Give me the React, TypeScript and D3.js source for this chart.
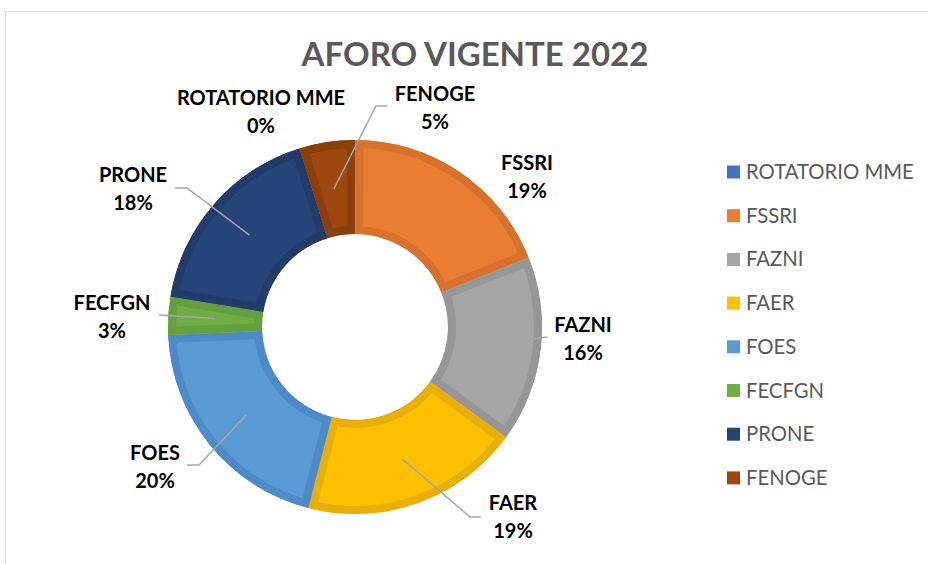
import { useMemo } from 'react';
import * as d3 from 'd3';

const categories = ['ROTATORIO MME', 'FSSRI', 'FAZNI', 'FAER', 'FOES', 'FECFGN', 'PRONE', 'FENOGE'];
const values = [0.05, 18.9, 16.1, 19.0, 20.3, 3.3, 17.6, 4.8];
const fills = ['#4472C4', '#E97E33', '#A5A5A5', '#FFC000', '#5B9BD5', '#70AD47', '#264478', '#9E480E'];
const bands = ['#3F69B5', '#D6722E', '#969696', '#E8AE0A', '#4E8BC6', '#64A03F', '#213C6A', '#8B3F0C'];

// label layout: text centre x, first baseline y, optional leader elbow + end
const labelLayout: { x: number; y: number; elbow?: [number, number]; end?: [number, number] }[] = [
  { x: 261, y: 105 },
  { x: 527, y: 170 },
  { x: 583, y: 332, end: [547, 337] },
  { x: 513, y: 510, elbow: [470, 517], end: [481, 517] },
  { x: 155, y: 460, elbow: [199, 465], end: [187, 465] },
  { x: 112, y: 310, end: [159, 315] },
  { x: 133, y: 182, elbow: [187, 188], end: [175, 188] },
  { x: 435, y: 101, elbow: [376, 106], end: [387, 106] },
];

const W = 928;
const H = 564;
const cx = 355;
const cy = 327;
const outerR = 187;
const innerR = 93;
const band = 8;

export default function App() {
  const arcs = useMemo(() => {
    const pie = d3.pie<number>().sort(null).value((d) => d);
    return pie(values);
  }, []);
  const total = d3.sum(values);
  const arc = d3.arc<d3.PieArcDatum<number>>().innerRadius(innerR).outerRadius(outerR);

  return (
    <svg
      width={W}
      height={H}
      style={{ position: 'absolute', left: 0, top: 0, background: '#fff' }}
      fontFamily="Lato, 'Open Sans', sans-serif"
    >
      <rect x={5.5} y={11.5} width={W} height={H} fill="#fff" stroke="#D9D9D9" strokeWidth={1} />
      <text x={475} y={66} textAnchor="middle" fontSize={33} fontWeight="bold" fill="#595959">
        AFORO VIGENTE 2022
      </text>
      <g transform={`translate(${cx},${cy})`}>
        <defs>
          {arcs.map((a, i) => (
            <clipPath id={`clip-${i}`} key={i}>
              <path d={arc(a) || ''} />
            </clipPath>
          ))}
        </defs>
        {arcs.map((a, i) => (
          <g key={i}>
            <path d={arc(a) || ''} fill={fills[i]} />
            <path
              d={arc(a) || ''}
              fill="none"
              stroke={bands[i]}
              strokeWidth={band * 2}
              strokeLinejoin="miter"
              clipPath={`url(#clip-${i})`}
            />
          </g>
        ))}
      </g>
      <g>
        {arcs.map((a, i) => {
          const lay = labelLayout[i];
          if (!lay.end) return null;
          const [px, py] = arc.centroid(a);
          const pts: [number, number][] = [[cx + px, cy + py]];
          if (lay.elbow) pts.push(lay.elbow);
          pts.push(lay.end);
          return (
            <path
              key={i}
              d={d3.line()(pts) || ''}
              fill="none"
              stroke="#A6A6A6"
              strokeWidth={1.5}
            />
          );
        })}
      </g>
      <g fontSize={20} fontWeight="bold" fill="#000" textAnchor="middle">
        {arcs.map((a, i) => {
          const lay = labelLayout[i];
          return (
            <text key={i} x={lay.x} y={lay.y}>
              <tspan x={lay.x}>{categories[i]}</tspan>
              <tspan x={lay.x} dy={28}>{`${Math.round((a.value / total) * 100)}%`}</tspan>
            </text>
          );
        })}
      </g>
      <g>
        {categories.map((c, i) => {
          const y = 172 + i * 43.7;
          return (
            <g key={c}>
              <rect x={727} y={y - 6.5} width={13} height={13} fill={fills[i]} />
              <text x={746} y={y + 7} fontSize={20.3} fill="#595959">
                {c}
              </text>
            </g>
          );
        })}
      </g>
    </svg>
  );
}
